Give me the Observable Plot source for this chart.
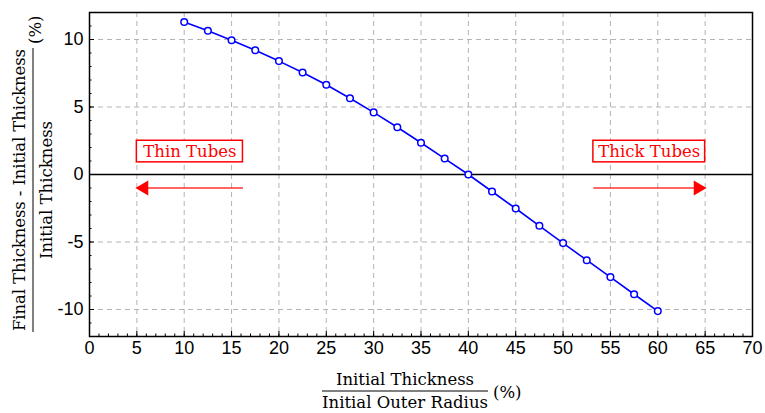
<!DOCTYPE html>
<html>
<head>
<meta charset="utf-8">
<script src="https://cdn.jsdelivr.net/npm/d3@7"></script>
<script src="https://cdn.jsdelivr.net/npm/@observablehq/plot@0.6"></script>
<style>
  html, body { margin: 0; padding: 0; background: #fff; }
  #chart svg { display: block; }
  #chart svg text.serif, #chart svg .serif text { font-family: "DejaVu Serif", serif !important; }
  #chart svg .sans text { font-family: "Liberation Sans", Arial, Helvetica, sans-serif !important; }
</style>
</head>
<body>
<div id="chart"></div>
<script>
// Data
const ratio = [10, 12.5, 15, 17.5, 20, 22.5, 25, 27.5, 30, 32.5, 35, 37.5, 40, 42.5, 45, 47.5, 50, 52.5, 55, 57.5, 60];
const change = [11.3, 10.65, 9.95, 9.2, 8.4, 7.55, 6.65, 5.65, 4.6, 3.5, 2.35, 1.18, 0, -1.26, -2.52, -3.8, -5.08, -6.35, -7.6, -8.87, -10.12];
const xTicks = [0, 5, 10, 15, 20, 25, 30, 35, 40, 45, 50, 55, 60, 65, 70];
const yTicks = [-10, -5, 0, 5, 10];
const annoLabels = ["Thin Tubes", "Thick Tubes"];
const annoX1 = [5, 53.2];
const annoX2 = [16.2, 65];
const annoTip = [5, 65];
const annoTail = [16.2, 53.2];

const data = ratio.map((r, i) => ({r, c: change[i]}));
const anno = annoLabels.map((t, i) => ({t, x1: annoX1[i], x2: annoX2[i], tip: annoTip[i], tail: annoTail[i], dir: i === 0 ? -90 : 90}));

const chart = Plot.plot({
  width: 765,
  height: 413,
  marginLeft: 89,
  marginRight: 13,
  marginTop: 12,
  marginBottom: 77,
  style: {fontSize: "17px", color: "black", background: "white"},
  x: {domain: [0, 70], label: null},
  y: {domain: [-12, 12], label: null},
  marks: [
    Plot.gridX(xTicks.filter(d => d > 0 && d < 70), {stroke: "#b4b4b4", strokeOpacity: 1, strokeDasharray: "5,4", strokeWidth: 1}),
    Plot.gridY(yTicks, {stroke: "#b4b4b4", strokeOpacity: 1, strokeDasharray: "5,4", strokeWidth: 1}),
    Plot.ruleY([0], {stroke: "black", strokeWidth: 1.5}),
    // annotations
    Plot.rect(anno, {x1: "x1", x2: "x2", y1: 0.9, y2: 2.5, fill: "white", stroke: "#ff0000", strokeWidth: 1.5}),
    Plot.text(anno, {x: d => (d.x1 + d.x2) / 2, y: 1.7, text: "t", fill: "#ff0000", fontSize: 16.5, className: "serif"}),
    Plot.link(anno, {x1: "tail", x2: d => d.tip + (d.tip < d.tail ? 1 : -1), y1: -1, y2: -1, stroke: "#ff0000", strokeWidth: 1.5, strokeOpacity: 0.8}),
    Plot.dot(anno, {x: d => d.tip + (d.tip < d.tail ? 0.75 : -0.75), y: -1, symbol: "triangle", r: 5.5, fill: "#ff0000", stroke: "none", rotate: "dir"}),
    // series
    Plot.line(data, {x: "r", y: "c", stroke: "#0000ff", strokeWidth: 1.6}),
    Plot.dot(data, {x: "r", y: "c", r: 3.3, stroke: "#0000ff", strokeWidth: 1.5, fill: "white"}),
    // axes
    Plot.axisX({ticks: d3.range(0, 71, 1), tickSize: -2.5, text: null, strokeWidth: 1}),
    Plot.axisX({ticks: xTicks, tickSize: -5, tickPadding: 10, strokeWidth: 1, fontSize: 18, className: "sans"}),
    Plot.axisY({ticks: d3.range(-12, 13, 1), tickSize: -2.5, text: null, strokeWidth: 1}),
    Plot.axisY({ticks: yTicks, tickSize: -5, tickPadding: 11, strokeWidth: 1, fontSize: 18, className: "sans", tickFormat: d => String(d)}),
    Plot.frame({stroke: "black", strokeWidth: 1.5})
  ]
});

document.getElementById("chart").appendChild(chart);

// fraction axis labels
const svg = d3.select(chart);
// x label
const gx = svg.append("g").attr("class", "serif").attr("transform", "translate(405,391)")
  .attr("font-size", 16.5).attr("fill", "black");
gx.append("text").attr("text-anchor", "middle").attr("y", -6).text("Initial Thickness");
gx.append("line").attr("x1", -83).attr("x2", 83).attr("stroke", "black").attr("stroke-width", 1);
gx.append("text").attr("text-anchor", "middle").attr("y", 17).text("Initial Outer Radius");
gx.append("text").attr("text-anchor", "start").attr("x", 88).attr("y", 7).text("(%)");

// y label (rotated)
const gy = svg.append("g").attr("class", "serif").attr("transform", "translate(33,190) rotate(-90)")
  .attr("font-size", 16.5).attr("fill", "black");
gy.append("text").attr("text-anchor", "middle").attr("y", -8)
  .attr("textLength", 282).attr("lengthAdjust", "spacing")
  .text("Final Thickness - Initial Thickness");
gy.append("line").attr("x1", -142).attr("x2", 142).attr("stroke", "black").attr("stroke-width", 1);
gy.append("text").attr("text-anchor", "middle").attr("y", 19).text("Initial Thickness");
gy.append("text").attr("text-anchor", "start").attr("x", 146).attr("y", 8).text("(%)");
</script>
</body>
</html>
